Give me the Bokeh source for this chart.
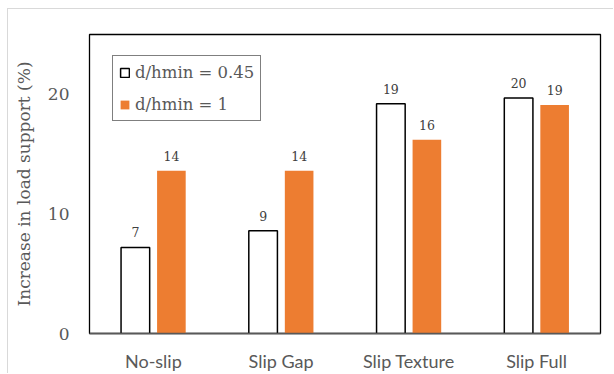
from bokeh.plotting import figure
from bokeh.models import ColumnDataSource, FactorRange, Range1d, FixedTicker, Legend, LegendItem
from bokeh.transform import dodge
from bokeh.embed import file_html
from bokeh.resources import INLINE
from bokeh.core.properties import value

# Data: increase in load support (%) per slip configuration
categories = ["No-slip", "Slip Gap", "Slip Texture", "Slip Full"]
ratio_045 = [7.2, 8.6, 19.2, 19.7]
ratio_1 = [13.6, 13.6, 16.2, 19.1]
series_labels = ["d/hmin = 0.45", "d/hmin = 1"]
y_ticks = [0, 10, 20]

source = ColumnDataSource(dict(
    cat=categories,
    a=ratio_045,
    b=ratio_1,
    a_txt=[f"{v:.0f}" for v in ratio_045],
    b_txt=[f"{v:.0f}" for v in ratio_1],
))

SERIF = "DejaVu Serif"
GREY = "#595959"
ORANGE = "#ED7D31"

p = figure(
    x_range=FactorRange(*categories),
    y_range=Range1d(0, 25),
    width=606, height=365,
    output_backend="svg", toolbar_location=None,
    min_border_left=81, min_border_top=25,
    min_border_right=14, min_border_bottom=41,
)
p.margin = (8, 0, 0, 7)
p.styles = {"border-left": "1px solid #d9d9d9", "border-top": "1px solid #d9d9d9"}

p.background_fill_color = "white"
p.border_fill_color = "white"
p.outline_line_color = "black"
p.outline_line_width = 1.3
p.xgrid.visible = False
p.ygrid.visible = False

off = 0.141
bw = 0.224
r1 = p.vbar(x=dodge("cat", -off, range=p.x_range), top="a", width=bw, source=source,
            fill_color="white", line_color="black", line_width=1.5)
r2 = p.vbar(x=dodge("cat", off, range=p.x_range), top="b", width=bw, source=source,
            fill_color=ORANGE, line_color=None)

for col, txt, dx in (("a", "a_txt", -off), ("b", "b_txt", off)):
    p.text(x=dodge("cat", dx, range=p.x_range), y=col, text=txt, source=source,
           text_font=value(SERIF), text_font_size="12.5px", text_color="#404040",
           text_align="center", text_baseline="middle", y_offset=-15)

# y axis
p.yaxis.ticker = FixedTicker(ticks=y_ticks)
p.yaxis.axis_line_color = None
p.yaxis.major_tick_line_color = None
p.yaxis.minor_tick_line_color = None
p.yaxis.major_label_text_font = SERIF
p.yaxis.major_label_text_font_size = "17px"
p.yaxis.major_label_text_color = GREY
p.yaxis.major_label_standoff = 14
p.yaxis.axis_label = "Increase in load support (%)"
p.yaxis.axis_label_text_font = SERIF
p.yaxis.axis_label_text_font_style = "normal"
p.yaxis.axis_label_text_font_size = "17px"
p.yaxis.axis_label_text_color = GREY
p.yaxis.axis_label_standoff = 11

# x axis
p.xaxis.axis_line_color = GREY
p.xaxis.axis_line_width = 1.5
p.xaxis.major_tick_line_color = None
p.xaxis.minor_tick_line_color = None
p.xaxis.major_label_text_font = "Lato"
p.xaxis.major_label_text_font_size = "18px"
p.xaxis.major_label_text_color = GREY
p.xaxis.major_label_standoff = 10

legend = Legend(
    items=[LegendItem(label=series_labels[0], renderers=[r1]),
           LegendItem(label=series_labels[1], renderers=[r2])],
    location=(23, 212),
    margin=0, padding=6, spacing=12,
    glyph_width=11, glyph_height=11, label_height=20, label_standoff=5,
    label_text_font=SERIF, label_text_font_size="16.5px", label_text_color=GREY,
    border_line_color="black", border_line_width=1.5,
    background_fill_color="white", background_fill_alpha=1.0,
)
p.add_layout(legend)

open("out.html", "w").write(file_html(p, INLINE))
